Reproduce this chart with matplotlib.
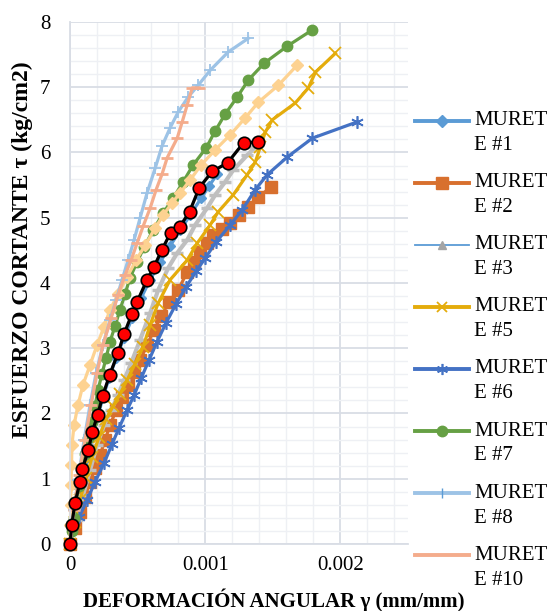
import matplotlib

matplotlib.use("Agg")
import matplotlib.pyplot as plt
from matplotlib.lines import Line2D
from matplotlib.ticker import MultipleLocator

plt.rcParams["font.family"] = ["Liberation Serif", "DejaVu Serif"]

# shear strain (mm/mm) and shear stress (kg/cm2) per wall specimen
m1_x = [0, 0.0000296, 0.0000593, 0.0000963, 0.000133, 0.00017, 0.000207, 0.000244, 0.000289,
        0.000341, 0.0004, 0.000459, 0.000526, 0.000593, 0.000667, 0.000741, 0.000815, 0.000889,
        0.00097, 0.00103, 0.001089]
m1_y = [0, 0.37, 0.67, 1.01, 1.33, 1.66, 1.96, 2.25, 2.54, 2.85, 3.16, 3.46, 3.77, 4.05, 4.32,
        4.57, 4.81, 5.04, 5.30, 5.49, 5.67]

m2_x = [0, 0.000037, 0.000074, 0.000111, 0.000148, 0.000185, 0.000222, 0.000259, 0.000296,
        0.000341, 0.000385, 0.00043, 0.000474, 0.000519, 0.00057, 0.000622, 0.000674, 0.000733,
        0.0008, 0.000867, 0.000919, 0.000963, 0.001015, 0.001059, 0.001126, 0.001185, 0.001252,
        0.001319, 0.001393, 0.001489]
m2_y = [0, 0.25, 0.49, 0.72, 0.95, 1.16, 1.36, 1.59, 1.82, 2.05, 2.25, 2.44, 2.64, 2.82, 3.05,
        3.28, 3.49, 3.71, 3.89, 4.17, 4.32, 4.48, 4.61, 4.74, 4.83, 4.92, 5.04, 5.16, 5.32, 5.47]

m3_x = [0, 0.0000519, 0.0000963, 0.000148, 0.0002, 0.000252, 0.000304, 0.000356, 0.0004,
        0.000452, 0.000519, 0.000593, 0.000652, 0.000726, 0.000793, 0.000867, 0.000926,
        0.001015, 0.001074, 0.001148, 0.001207, 0.001311, 0.00137]
m3_y = [0, 0.37, 0.75, 1.13, 1.52, 1.82, 2.05, 2.28, 2.51, 2.77, 3.13, 3.54, 3.89, 4.23, 4.46,
        4.66, 4.89, 5.15, 5.35, 5.55, 5.73, 5.96, 6.08]

m5_x = [0, 0.000037, 0.000074, 0.000119, 0.000163, 0.000215, 0.000267, 0.000319, 0.00037,
        0.000422, 0.000481, 0.000541, 0.000593, 0.000652, 0.000741, 0.000867, 0.000941,
        0.001037, 0.001096, 0.001207, 0.001311, 0.00137, 0.001407, 0.001444, 0.001496,
        0.001667, 0.001763, 0.001815, 0.001963]
m5_y = [0, 0.34, 0.67, 1.01, 1.33, 1.64, 1.92, 2.11, 2.30, 2.51, 2.76, 3.02, 3.36, 3.69, 4.05,
        4.35, 4.61, 4.89, 5.09, 5.35, 5.66, 5.85, 6.08, 6.31, 6.50, 6.76, 6.99, 7.23, 7.52]

m6_x = [0.0000667, 0.000126, 0.000185, 0.000252, 0.000311, 0.000363, 0.000422, 0.000474,
        0.000526, 0.000585, 0.000644, 0.000711, 0.000785, 0.000859, 0.000933, 0.001, 0.001081,
        0.001185, 0.001274, 0.00137, 0.001459, 0.001607, 0.001793, 0.002126]
m6_y = [0.41, 0.67, 0.95, 1.24, 1.53, 1.78, 2.05, 2.28, 2.54, 2.82, 3.10, 3.39, 3.68, 3.94,
        4.18, 4.38, 4.63, 4.89, 5.12, 5.43, 5.66, 5.93, 6.22, 6.47]

m7_x = [0, 0.0000148, 0.0000296, 0.0000444, 0.0000667, 0.0000889, 0.000111, 0.000133, 0.000163,
        0.000185, 0.000207, 0.000237, 0.000267, 0.000296, 0.000333, 0.00037, 0.000407, 0.000444,
        0.000496, 0.000548, 0.000615, 0.000689, 0.000763, 0.000837, 0.000911, 0.001007,
        0.001074, 0.001148, 0.001237, 0.001319, 0.001437, 0.001607, 0.001793]
m7_y = [0, 0.20, 0.40, 0.64, 0.89, 1.13, 1.38, 1.62, 1.87, 2.11, 2.36, 2.61, 2.85, 3.10, 3.34,
        3.59, 3.83, 4.08, 4.32, 4.55, 4.81, 5.07, 5.30, 5.55, 5.81, 6.07, 6.33, 6.59, 6.85,
        7.11, 7.37, 7.63, 7.88]

m8_x = [0, 0.0000296, 0.0000593, 0.000104, 0.000148, 0.000193, 0.000244, 0.000296, 0.000341,
        0.000385, 0.00043, 0.000474, 0.000519, 0.00057, 0.00063, 0.000681, 0.000741, 0.0008,
        0.000874, 0.000948, 0.001037, 0.00117, 0.001319]
m8_y = [0, 0.52, 0.98, 1.59, 2.13, 2.62, 3.05, 3.43, 3.74, 4.05, 4.35, 4.66, 5.00, 5.38, 5.76,
        6.10, 6.38, 6.62, 6.85, 7.03, 7.26, 7.54, 7.75]

m10_x = [0, 0.0000296, 0.0000667, 0.000111, 0.000156, 0.0002, 0.000244, 0.000304, 0.000356,
         0.000407, 0.000452, 0.000496, 0.000541, 0.000593, 0.000637, 0.000681, 0.000719,
         0.000793, 0.00083, 0.000867, 0.000904, 0.000956]
m10_y = [0, 0.52, 1.06, 1.59, 2.13, 2.62, 3.05, 3.46, 3.82, 4.12, 4.35, 4.61, 4.87, 5.15, 5.43,
         5.67, 5.92, 6.22, 6.47, 6.73, 6.99, 6.99]

# extra series drawn in the chart but not named in the legend
extra_x = [0, 0.000003, 0.000005, 0.000008, 0.000011, 0.0000148, 0.0000296, 0.0000593, 0.0000963,
           0.000148, 0.0002, 0.000252, 0.000296, 0.000356, 0.000422, 0.000489, 0.000556,
           0.00063, 0.000689, 0.000756, 0.000815, 0.000889, 0.00097, 0.001074, 0.001185,
           0.001296, 0.001393, 0.001541, 0.001681]
extra_y = [0, 0.29, 0.60, 0.90, 1.21, 1.52, 1.82, 2.13, 2.44, 2.74, 3.05, 3.33, 3.59, 3.83, 4.09,
           4.35, 4.58, 4.84, 5.04, 5.23, 5.38, 5.58, 5.81, 6.04, 6.27, 6.53, 6.77, 7.03, 7.34]

avg_x = [0, 0.0000126, 0.000037, 0.000074, 0.000091, 0.000136, 0.000165, 0.000205, 0.000242,
         0.000293, 0.000356, 0.0004, 0.000457, 0.000496, 0.00057, 0.000622, 0.000678, 0.000744,
         0.000811, 0.000884, 0.000956, 0.001052, 0.001165, 0.001284, 0.001387]
avg_y = [0, 0.29, 0.63, 0.95, 1.15, 1.44, 1.72, 1.98, 2.27, 2.59, 2.93, 3.22, 3.52, 3.71, 4.05,
         4.25, 4.50, 4.77, 4.86, 5.09, 5.46, 5.71, 5.84, 6.15, 6.16]

labels = ["MURETE #1", "MURETE #2", "MURETE #3", "MURETE #5", "MURETE #6", "MURETE #7",
          "MURETE #8", "MURETE #10"]

C1 = "#5B9BD5"
C2 = "#D8702E"
C3 = "#BFBFBF"
C5 = "#E4AC0C"
C6 = "#4472C4"
C7 = "#66A044"
C8 = "#9DC3E6"
C10 = "#F4AC8C"
CEXTRA = "#FDD291"

STAR = (6, 2, 0)

fig = plt.figure(figsize=(5.49, 6.11), dpi=100)
ax = fig.add_axes([0.1275, 0.1097, 0.6157, 0.8543])

common = dict(clip_on=False)
ax.plot(m1_x, m1_y, color=C1, lw=2.3, marker="D", ms=5, mfc=C1, mec=C1, **common)
ax.plot(m2_x, m2_y, color=C2, lw=2.3, marker="s", ms=8.5, mfc=C2, mec=C2, **common)
ax.plot(m3_x, m3_y, color=C3, lw=3.0, marker="_", ms=8, mew=2.5, mec=C3, **common)
ax.plot(m5_x, m5_y, color=C5, lw=2.3, marker="x", ms=8, mew=1.3, mec=C5, **common)
ax.plot(m6_x, m6_y, color=C6, lw=2.3, marker=STAR, ms=9, mew=1.2, mec=C6, **common)
ax.plot(m7_x, m7_y, color=C7, lw=2.3, marker="o", ms=7.5, mfc=C7, mec=C7, **common)
ax.plot(extra_x, extra_y, color=CEXTRA, lw=2.3, marker="D", ms=6.5, mfc=CEXTRA, mec=CEXTRA, **common)
ax.plot(m8_x, m8_y, color=C8, lw=2.3, marker="+", ms=9, mew=1.3, mec=C8, **common)
ax.plot(m10_x, m10_y, color=C10, lw=2.3, marker="_", ms=8, mew=2.0, mec=C10, **common)
ax.plot(avg_x, avg_y, color="black", lw=2.3, marker="o", ms=9, mfc="#FF0000", mec="black",
        mew=1.2, zorder=5, **common)

ax.set_xlim(0, 0.0025)
ax.set_ylim(0, 8)
ax.xaxis.set_minor_locator(MultipleLocator(0.0002))
ax.yaxis.set_minor_locator(MultipleLocator(0.2))
ax.set_xticks([0, 0.001, 0.002])
ax.set_xticklabels(["0", "0.001", "0.002"])
ax.set_yticks(range(0, 9))
ax.grid(which="major", color="#D9DDE5", lw=1.3)
ax.grid(which="minor", color="#EEF0F4", lw=1.0)
ax.set_axisbelow(True)
ax.tick_params(which="both", length=0, labelsize=15)
ax.tick_params(axis="y", pad=14)
ax.tick_params(axis="x", pad=9)
for side in ["top", "right"]:
    ax.spines[side].set_visible(False)
for side in ["left", "bottom"]:
    ax.spines[side].set_color("#D9DDE5")
    ax.spines[side].set_linewidth(1.3)

W, H = 549.0, 611.0
fig.text(274 / W, 1 - 600 / H, "DEFORMACIÓN ANGULAR γ (mm/mm)", fontsize=15,
         fontweight="bold", ha="center", va="center")
fig.text(22 / W, 1 - 250 / H, "ESFUERZO CORTANTE τ (kg/cm2)", fontsize=17,
         fontweight="bold", ha="center", va="center", rotation=90)

# legend drawn by hand so the marker sits on the first text line
legend_style = [
    dict(color=C1, lw=2.8, marker="D", ms=6, mfc=C1, mec=C1),
    dict(color=C2, lw=2.8, marker="s", ms=8.5, mfc=C2, mec=C2),
    dict(color=C1, lw=1.3, marker="^", ms=6, mfc="#A5A5A5", mec="#A5A5A5"),
    dict(color=C5, lw=2.8, marker="x", ms=7, mew=1.3, mec=C5),
    dict(color=C6, lw=2.8, marker=STAR, ms=8, mew=1.2, mec=C6),
    dict(color=C7, lw=2.8, marker="o", ms=7.5, mfc=C7, mec=C7),
    dict(color=C8, lw=2.8, marker="|", ms=7, mew=1.0, mec=C1),
    dict(color=C10, lw=2.8),
]
for i, (lab, st) in enumerate(zip(labels, legend_style)):
    py = 120.5 + i * 62.1
    yf = 1 - py / H
    fig.add_artist(Line2D([415 / W, 469 / W], [yf, yf], transform=fig.transFigure,
                          color=st["color"], lw=st["lw"]))
    if "marker" in st:
        fig.add_artist(Line2D([442 / W], [yf], transform=fig.transFigure, linestyle="none",
                              marker=st["marker"], ms=st["ms"], mfc=st.get("mfc", "none"),
                              mec=st["mec"], mew=st.get("mew", 1.0)))
    first, second = lab[:5], lab[5:]
    fig.text(474 / W, yf, first, fontsize=15, va="center", ha="left")
    fig.text(474 / W, 1 - (py + 25) / H, second, fontsize=15, va="center", ha="left")

fig.savefig("out.png", dpi=100)
